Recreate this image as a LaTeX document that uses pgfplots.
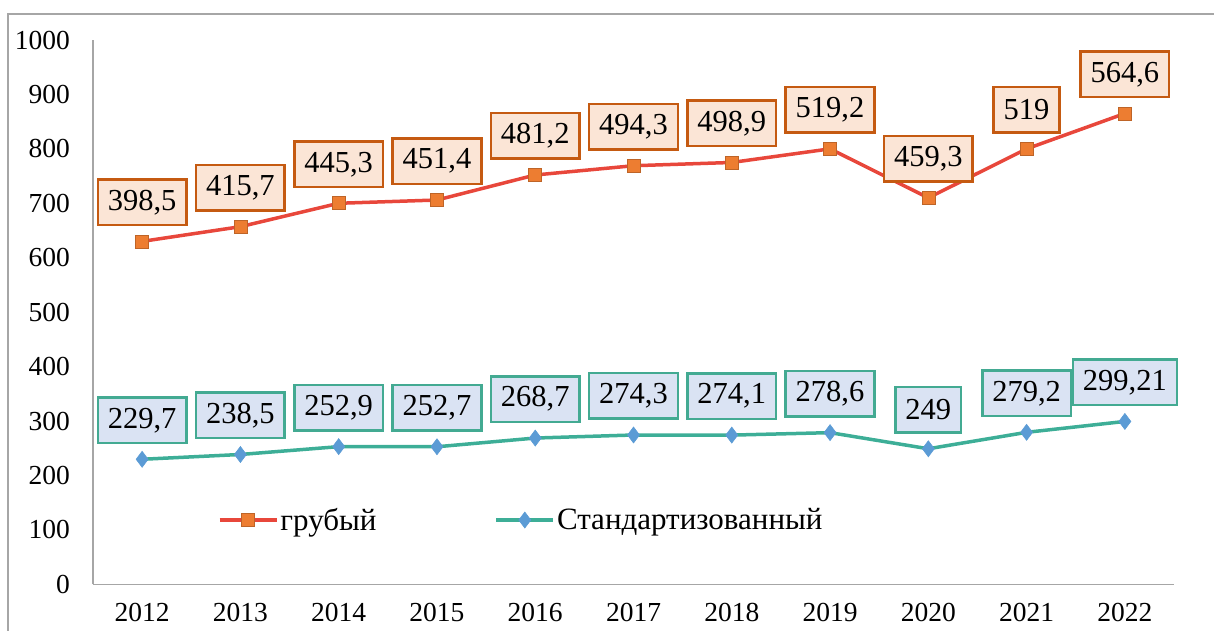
\documentclass[border=0pt]{standalone}
\usepackage{pgfplots}
\pgfplotsset{compat=1.18}
\usepackage{pgfplotstable}
\usepackage{fontspec}
\setmainfont{Liberation Serif}
\definecolor{redline}{HTML}{E8473B}
\definecolor{redmark}{HTML}{ED7D31}
\definecolor{redbox}{HTML}{C55A11}
\definecolor{redfill}{HTML}{FBE5D6}
\definecolor{tealline}{HTML}{3DAE97}
\definecolor{tealmark}{HTML}{5B9BD5}
\definecolor{tealbox}{HTML}{43AA92}
\definecolor{tealfill}{HTML}{DAE3F3}
\definecolor{axgray}{HTML}{A6A6A6}

\pgfplotstableread{
x y lab
0 630 398,5
1 657 415,7
2 700 445,3
3 706 451,4
4 752 481,2
5 769 494,3
6 775 498,9
7 800 519,2
8 710 459,3
9 800 519
10 865 564,6
}\grub

\pgfplotstableread{
x y lab
0 229.7 229,7
1 238.5 238,5
2 252.9 252,9
3 252.7 252,7
4 268.7 268,7
5 274.3 274,3
6 274.1 274,1
7 278.6 278,6
8 249 249
9 279.2 279,2
10 299.21 299,21
}\stand

\begin{document}
\begin{tikzpicture}[x=1pt,y=1pt]
\useasboundingbox (0,0) rectangle (1214,631);
\draw[axgray, line width=1.5pt] (8,-30) rectangle (1240,617);
\begin{axis}[
  at={(93pt,46.7pt)}, anchor=south west,
  scale only axis,
  width=1081pt, height=544.3pt,
  xmin=-0.5, xmax=10.5,
  ymin=0, ymax=1000,
  axis x line*=bottom, axis y line*=left,
  axis line style={axgray, line width=1.2pt, -},
  xtick={0,...,10},
  xticklabels={2012,2013,2014,2015,2016,2017,2018,2019,2020,2021,2022},
  ytick={0,100,...,1000},
  major tick length=0pt,
  /pgf/number format/assume math mode=true,
  /pgf/number format/1000 sep={},
  tick label style={font=\fontsize{27.5}{27.5}\selectfont, text=black},
  yticklabel style={anchor=east, inner sep=0pt, xshift=-23pt},
  xticklabel style={anchor=center, inner sep=0pt, yshift=-28pt},
  clip=false,
  legend style={draw=none, fill=none, at={(0.1156,0.118)}, anchor=west,
     inner sep=0pt, outer sep=0pt,
     font=\fontsize{31}{31}\selectfont,
     legend columns=2,
     /tikz/every even column/.append style={column sep=116pt},
     nodes={inner xsep=2pt}},
  legend image code/.code={
     \draw[mark repeat=2,mark phase=2,#1] plot coordinates {(0pt,0pt) (28.5pt,0pt) (57pt,0pt)};},
  nodes near coords={\pgfplotspointmeta},
  point meta=explicit symbolic,
]
\addplot[redline, line width=3.5pt, mark=square*,
  mark options={fill=redmark, draw=redmark!80!black, line width=0.6pt, mark size=6.5pt},
  nodes near coords style={anchor=center, yshift=39pt, draw=redbox, fill=redfill,
     line width=2.5pt, text=black, font=\fontsize{30.5}{30.5}\selectfont,
     inner xsep=10pt, inner ysep=0pt, minimum height=45.5pt}]
  table[x=x, y=y, meta=lab] {\grub};
\addlegendentry{грубый}
\addplot[tealline, line width=3.5pt, mark=diamond*,
  mark options={fill=tealmark, draw=tealmark, line width=0.6pt, mark size=8pt},
  nodes near coords style={anchor=center, yshift=39pt, draw=tealbox, fill=tealfill,
     line width=2.5pt, text=black, font=\fontsize{30.5}{30.5}\selectfont,
     inner xsep=10pt, inner ysep=0pt, minimum height=45.5pt}]
  table[x=x, y=y, meta=lab] {\stand};
\addlegendentry{Стандартизованный}
\end{axis}
\end{tikzpicture}
\end{document}
